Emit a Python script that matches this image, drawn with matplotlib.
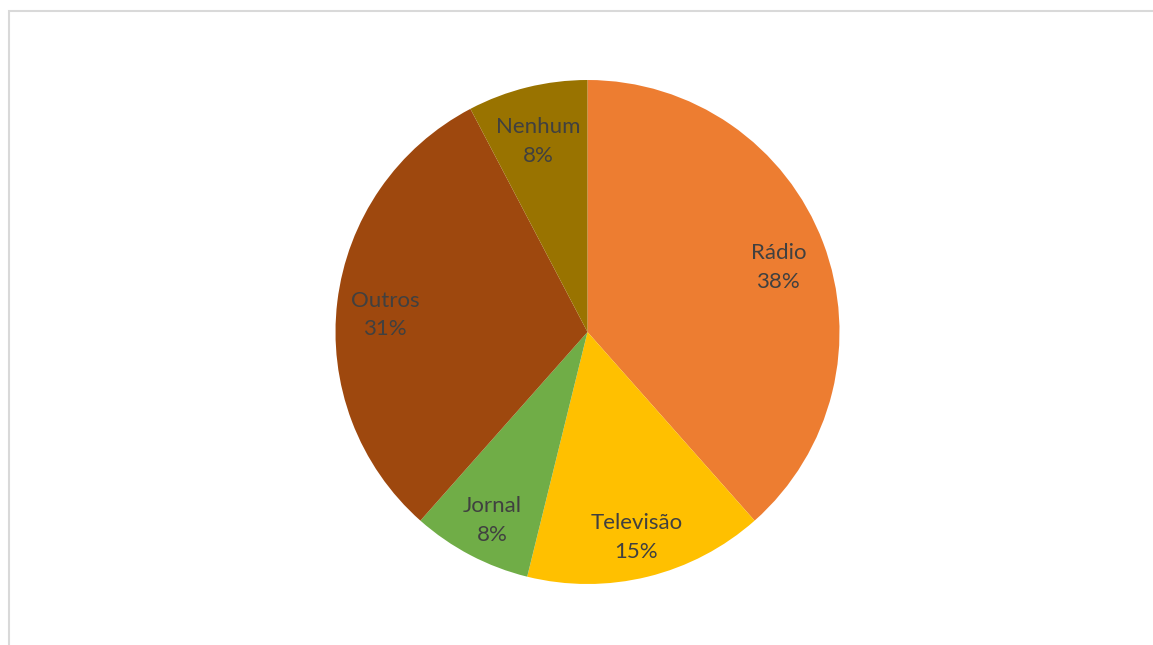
import numpy as np
import matplotlib
matplotlib.use("Agg")
import matplotlib.pyplot as plt
from matplotlib.patches import Rectangle

# respostas (contagens) -> percentagens mostradas no grafico
categorias = ["Rádio", "Televisão", "Jornal", "Outros", "Nenhum"]
respostas = [5, 2, 1, 4, 1]
cores = ["#ED7D31", "#FFC000", "#70AD47", "#9E480E", "#997300"]

W, H = 1153, 645
fig = plt.figure(figsize=(W / 100, H / 100), dpi=100)
fig.patch.set_facecolor("white")

# moldura cinzenta da area do grafico
fig.patches.append(Rectangle((9 / W, -0.05), 1.2, 634 / H + 0.05,
                             transform=fig.transFigure, fill=False,
                             edgecolor="#d9d9d9", linewidth=1.5))

# centro (587.5, 332) e raio 252 em pixeis
r = 252
cx, cy = 587.5, H - 332
ax = fig.add_axes([(cx - r) / W, (cy - r) / H, 2 * r / W, 2 * r / H])

wedges, _ = ax.pie(respostas, colors=cores, startangle=90, counterclock=False,
                   radius=1.0, wedgeprops=dict(linewidth=0))
ax.set_xlim(-1, 1)
ax.set_ylim(-1, 1)
ax.axis("off")

total = sum(respostas)
for w, nome, v in zip(wedges, categorias, respostas):
    ang = np.deg2rad((w.theta1 + w.theta2) / 2)
    d = 0.81
    x, y = d * np.cos(ang), d * np.sin(ang) - 0.03
    ax.text(x, y, f"{nome}\n{round(100 * v / total)}%", ha="center", va="center",
            fontsize=16, color="#404040", family=["Lato", "DejaVu Sans"],
            linespacing=1.55)

fig.savefig("out.png", dpi=100)
